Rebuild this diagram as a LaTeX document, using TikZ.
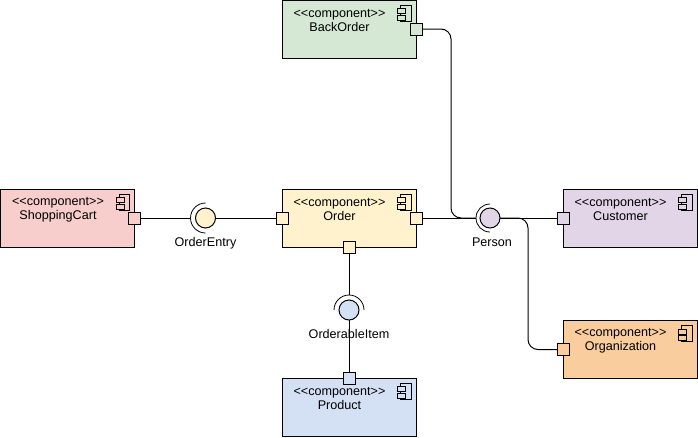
\documentclass[tikz,border=0pt]{standalone}
\usepackage{fontspec}
\setmainfont{Liberation Sans}
\usetikzlibrary{positioning}
\definecolor{cartred}{HTML}{F8CECC}
\definecolor{orderyellow}{HTML}{FFF2CC}
\definecolor{backgreen}{HTML}{D5E8D4}
\definecolor{custpurple}{HTML}{E1D5E7}
\definecolor{orgorange}{HTML}{FACD9E}
\definecolor{prodblue}{HTML}{D4E1F5}

\begin{document}
\begin{tikzpicture}[x=1pt, y=1pt, line width=1pt,
        compbox/.style={draw, rectangle, minimum width=134pt, minimum height=58pt, outer sep=0pt},
        comptext/.style={font=\fontsize{12.6}{14}\selectfont, align=center, inner sep=0pt, xshift=-9.5pt, yshift=8.5pt},
        port/.style={draw, rectangle, minimum size=12pt, inner sep=0pt, outer sep=0pt},
        lolly/.style={draw, circle, minimum size=20pt, inner sep=0pt, outer sep=0pt},
        socket/.style={line width=0.8pt},
        iflabel/.style={font=\fontsize{12.6}{14}\selectfont, inner sep=0pt},
        roundline/.style={rounded corners=10pt},
        compicon/.pic={
            \draw (-15.5,-5) rectangle (-5,-21);
            \draw [pic actions] (-18.5,-8.5) rectangle (-10.5,-13.5);
            \draw [pic actions] (-18.5,-15) rectangle (-10.5,-20);
        }
    ]
        \useasboundingbox (0,0) rectangle (698,-437);

        \node [compbox, fill=cartred, label={[comptext, name=carttext]center:{<{}<component>{}>\\ShoppingCart}}] (cart) at (67.5,-218) {};
        \node [compbox, fill=orderyellow, right=147.5pt of cart, label={[comptext, name=ordertext]center:{<{}<component>{}>\\Order}}] (order) {};
        \node [compbox, fill=backgreen, above=131pt of order, label={[comptext, name=backtext]center:{<{}<component>{}>\\BackOrder}}] (back) {};
        \node [compbox, fill=prodblue, below=131pt of order, label={[comptext, name=prodtext]center:{<{}<component>{}>\\Product}}] (prod) {};
        \node [compbox, fill=custpurple, right=147pt of order, label={[comptext, name=custtext]center:{<{}<component>{}>\\Customer}}] (cust) {};
        \node [compbox, fill=orgorange, below=73.5pt of cust, label={[comptext, name=orgtext]center:{<{}<component>{}>\\Organization}}] (org) {};

        \foreach \comp/\compfill in {cart/cartred,order/orderyellow,back/backgreen,prod/prodblue,cust/custpurple,org/orgorange}
            \pic [fill=\compfill] at (\comp.north east) {compicon};

        \node [port, fill=cartred] (cartport) at (cart.east) {};
        \node [port, fill=orderyellow] (orderin) at (order.west) {};
        \node [port, fill=orderyellow] (orderout) at (order.east) {};
        \node [port, fill=orderyellow] (orderdown) at (order.south) {};
        \node [port, fill=backgreen] (backport) at (back.east) {};
        \node [port, fill=prodblue] (prodport) at (prod.north) {};
        \node [port, fill=custpurple] (custport) at (cust.west) {};
        \node [port, fill=orgorange] (orgport) at (org.west) {};

        \node [lolly, fill=orderyellow, right=61pt of cart] (entry) {};
        \node [lolly, fill=custpurple, right=64pt of order] (person) {};
        \node [lolly, fill=prodblue, below=53pt of order] (item) {};

        \node [iflabel, below=9pt of entry] (entrylabel) {OrderEntry};
        \node [iflabel, below=9pt of person, xshift=2pt] (personlabel) {Person};
        \node [iflabel, below=9pt of item] (itemlabel) {OrderableItem};

        \coordinate [left=15pt of entry.center] (entrysocket);
        \coordinate [left=14pt of person.center] (personsocket);
        \coordinate [above=15pt of item.center] (itemsocket);
        \coordinate [right=35pt of backport.center] (backbend);
        \coordinate [right=28pt of person.east] (orgbend);

        \draw [socket] (entrysocket) arc[start angle=180, end angle=90, radius=15pt];
        \draw [socket] (entrysocket) arc[start angle=180, end angle=270, radius=15pt];
        \draw [socket] (personsocket) arc[start angle=180, end angle=90, radius=14pt];
        \draw [socket] (personsocket) arc[start angle=180, end angle=270, radius=14pt];
        \draw [socket] (itemsocket) arc[start angle=90, end angle=0, radius=15pt];
        \draw [socket] (itemsocket) arc[start angle=90, end angle=180, radius=15pt];

        \draw (cartport) -- (entrysocket);
        \draw (entry) -- (orderin);
        \draw (orderout) -- (personsocket);
        \draw (person) -- (custport);
        \draw (orderdown) -- (itemsocket);
        \draw (item) -- (prodport);
        \draw [roundline] (backport) -- (backbend) |- (personsocket);
        \draw [roundline] (person.east) -- (orgbend) |- (orgport);
    \end{tikzpicture}
\end{document}
